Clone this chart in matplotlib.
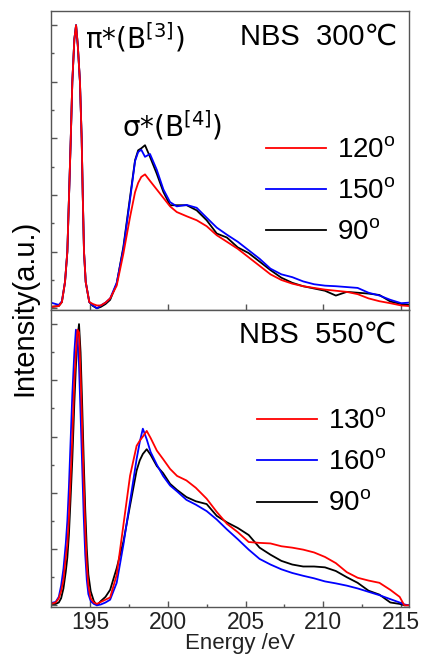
"""NBS B K-edge NEXAFS angle-dependence plot (300 and 550 C)."""

import matplotlib

matplotlib.use("Agg")
import matplotlib.pyplot as plt

plt.rcParams["font.family"] = ["Liberation Sans", "DejaVu Sans"]
plt.rcParams["mathtext.fontset"] = "dejavusans"

# --- top panel: NBS 300C -------------------------------------------------
E_TOP = [192.5, 193.0, 193.2, 193.4, 193.55, 193.66, 193.77, 193.87, 194.0,
         194.11, 194.22, 194.36, 194.47, 194.54, 194.62, 194.73, 194.96,
         195.2, 195.45, 195.7, 196.0, 196.3, 196.72, 197.15, 197.58, 197.9,
         198.1, 198.3, 198.54, 198.86, 199.29, 199.72, 200.15, 200.58,
         201.22, 201.86, 202.5, 203.15, 203.8, 204.5, 205.2, 205.9, 206.6,
         207.3, 208.0, 208.7, 209.4, 210.1, 210.8, 211.5, 212.2, 212.9,
         213.6, 214.3, 215.0, 215.5]
TOP_120 = [0.005, 0.008, 0.022, 0.093, 0.20, 0.40, 0.60, 0.80, 0.95,
           1.0, 0.93, 0.80, 0.60, 0.40, 0.20, 0.093, 0.022,
           0.015, 0.01, 0.01, 0.02, 0.035, 0.08, 0.193, 0.323, 0.41,
           0.443, 0.464, 0.473, 0.45, 0.42, 0.39, 0.36, 0.34,
           0.325, 0.311, 0.29, 0.258, 0.235, 0.21, 0.18, 0.15, 0.12,
           0.10, 0.087, 0.078, 0.072, 0.066, 0.062, 0.058, 0.05, 0.035,
           0.025, 0.018, 0.01, 0.008]
TOP_150 = [0.02, 0.012, 0.025, 0.093, 0.20, 0.40, 0.60, 0.80, 0.95,
           1.0, 0.93, 0.80, 0.60, 0.40, 0.20, 0.093, 0.022,
           0.01, 0.0, 0.01, 0.02, 0.035, 0.09, 0.21, 0.385, 0.52,
           0.552, 0.56, 0.535, 0.545, 0.49, 0.42, 0.375, 0.36,
           0.365, 0.355, 0.32, 0.285, 0.26, 0.235, 0.205, 0.175, 0.14,
           0.12, 0.11, 0.095, 0.085, 0.08, 0.078, 0.075, 0.072, 0.055,
           0.045, 0.03, 0.018, 0.02]
TOP_90 = [0.005, 0.008, 0.022, 0.093, 0.20, 0.40, 0.60, 0.80, 0.95,
          1.0, 0.93, 0.80, 0.60, 0.40, 0.20, 0.093, 0.022,
          0.008, 0.0, 0.005, 0.015, 0.03, 0.087, 0.217, 0.393, 0.523,
          0.558, 0.565, 0.576, 0.535, 0.476, 0.411, 0.364, 0.364,
          0.364, 0.346, 0.311, 0.264, 0.25, 0.215, 0.195, 0.165, 0.135,
          0.108, 0.09, 0.078, 0.07, 0.062, 0.045, 0.058, 0.055, 0.052,
          0.047, 0.024, 0.015, 0.012]

# --- bottom panel: NBS 550C ----------------------------------------------
E_BOT = [192.5, 192.8, 193.0, 193.15, 193.3, 193.45, 193.55, 193.65, 193.75,
         193.87, 194.0, 194.1, 194.2, 194.3, 194.4, 194.5, 194.6, 194.7,
         194.8, 194.9, 195.05, 195.25, 195.45, 195.7, 196.0, 196.3, 196.72,
         197.15, 197.58, 198.0, 198.2, 198.4, 198.65, 198.9, 199.3, 199.7,
         200.15, 200.6, 201.2, 201.8, 202.5, 203.15, 203.8, 204.5, 205.2,
         205.9, 206.6, 207.3, 208.0, 208.7, 209.4, 210.1, 210.8, 211.5,
         212.2, 212.9, 213.6, 214.3, 214.9, 215.2, 215.5]
BOT_130 = [0.005, 0.01, 0.025, 0.05, 0.09, 0.17, 0.22, 0.31, 0.44,
           0.60, 0.80, 0.90, 0.98, 0.97, 0.82, 0.64, 0.44, 0.27,
           0.14, 0.07, 0.025, 0.01, 0.005, 0.012, 0.02, 0.028, 0.108,
           0.285, 0.461, 0.567, 0.585, 0.60, 0.62, 0.595, 0.55, 0.52,
           0.485, 0.46, 0.444, 0.418, 0.379, 0.332, 0.29, 0.26, 0.225,
           0.222, 0.22, 0.21, 0.205, 0.198, 0.188, 0.172, 0.15, 0.118,
           0.098, 0.088, 0.08, 0.055, 0.03, 0.0, 0.0]
BOT_160 = [0.008, 0.012, 0.03, 0.07, 0.13, 0.22, 0.30, 0.42, 0.57,
           0.75, 0.90, 0.98, 0.96, 0.85, 0.68, 0.50, 0.32, 0.18,
           0.09, 0.04, 0.015, 0.005, 0.0, 0.003, 0.01, 0.02, 0.08,
           0.215, 0.37, 0.52, 0.58, 0.628, 0.59, 0.545, 0.50, 0.46,
           0.426, 0.405, 0.375, 0.358, 0.335, 0.305, 0.27, 0.235, 0.198,
           0.165, 0.145, 0.128, 0.115, 0.105, 0.096, 0.085, 0.078, 0.07,
           0.06, 0.048, 0.036, 0.022, 0.01, 0.003, 0.0]
BOT_90 = [0.005, 0.005, 0.01, 0.025, 0.06, 0.12, 0.17, 0.25, 0.37,
          0.52, 0.72, 0.85, 0.95, 1.0, 0.90, 0.72, 0.52, 0.34,
          0.20, 0.11, 0.05, 0.015, 0.0, 0.015, 0.03, 0.055, 0.132,
          0.226, 0.355, 0.479, 0.515, 0.538, 0.555, 0.535, 0.495, 0.47,
          0.432, 0.41, 0.385, 0.37, 0.36, 0.318, 0.295, 0.275, 0.25,
          0.205, 0.18, 0.158, 0.145, 0.138, 0.138, 0.135, 0.122, 0.10,
          0.08, 0.052, 0.038, 0.01, 0.005, 0.0, 0.0]

X_TICKS = [195, 200, 205, 210, 215]
X_MINOR = [197.5, 202.5, 207.5, 212.5]
Y_TICKS = [0.0, 0.2, 0.4, 0.6, 0.8, 1.0]
Y_MINOR = [0.1, 0.3, 0.5, 0.7, 0.9]

RED, BLUE, BLACK = "#ff0000", "#0000ff", "#000000"
EDGE = "#555555"
DEG = "$^{\\mathregular{o}}$"


def style_axes(ax, show_labels):
    ax.set_xlim(192.5, 215.5)
    ax.set_ylim(-0.006, 1.05)
    ax.set_yticks(Y_TICKS)
    ax.set_yticks(Y_MINOR, minor=True)
    ax.set_yticklabels([])
    ax.set_xticks(X_TICKS)
    if show_labels:
        ax.set_xticks(X_MINOR, minor=True)
    else:
        ax.set_xticklabels([])
    ax.tick_params(which="both", direction="in", color=EDGE, width=1.0,
                   labelsize=16.5, labelcolor="#222222", pad=3)
    ax.tick_params(which="major", length=4.5)
    ax.tick_params(which="minor", length=2.5)
    for sp in ax.spines.values():
        sp.set_color(EDGE)
        sp.set_linewidth(1.0)


def draw_panel(ax, E, series, title, title_y):
    lines = {}
    for vals, color, label in series:
        (ln,) = ax.plot(E, vals, color=color, lw=1.3, label=label)
        lines[label] = ln
    ax.text(0.966, title_y, title, transform=ax.transAxes,
            ha="right", va="center", fontsize=21)
    return lines


fig = plt.figure(figsize=(4.22, 6.55), dpi=100)
ax_top = fig.add_axes([51 / 422, 1 - 310 / 655, 358 / 422, 299 / 655])
ax_bot = fig.add_axes([51 / 422, 1 - 607 / 655, 358 / 422, 297 / 655])

top_lines = draw_panel(ax_top, E_TOP, [
    (TOP_90, BLACK, "90" + DEG),
    (TOP_150, BLUE, "150" + DEG),
    (TOP_120, RED, "120" + DEG),
], "NBS  300\u2103", 0.913)
bot_lines = draw_panel(ax_bot, E_BOT, [
    (BOT_90, BLACK, "90" + DEG),
    (BOT_160, BLUE, "160" + DEG),
    (BOT_130, RED, "130" + DEG),
], "NBS  550\u2103", 0.916)

style_axes(ax_top, False)
style_axes(ax_bot, True)

ax_top.text(0.095, 0.91, "\u03c0*(B$^{[3]}$)", family="DejaVu Sans",
            transform=ax_top.transAxes, ha="left", va="center", fontsize=20)
ax_top.text(0.198, 0.615, "\u03c3*(B$^{[4]}$)", family="DejaVu Sans",
            transform=ax_top.transAxes, ha="left", va="center", fontsize=20)

leg_kw = dict(frameon=False, fontsize=20, handlelength=2.16, handletextpad=0.4,
              labelspacing=0.55, borderpad=0, borderaxespad=0, loc="center left")
top_order = ["120" + DEG, "150" + DEG, "90" + DEG]
bot_order = ["130" + DEG, "160" + DEG, "90" + DEG]
ax_top.legend([top_lines[k] for k in top_order], top_order,
              bbox_to_anchor=(0.60, 0.395), **leg_kw)
ax_bot.legend([bot_lines[k] for k in bot_order], bot_order,
              bbox_to_anchor=(0.575, 0.485), **leg_kw)

fig.text(24 / 422, 1 - 308 / 655, "Intensity(a.u.)", rotation=90,
         ha="center", va="center", fontsize=21)
fig.text(240 / 422, 1 - 644 / 655, "Energy /eV", ha="center", va="center",
         fontsize=16, color="#222222")

fig.savefig("out.png", dpi=100)
